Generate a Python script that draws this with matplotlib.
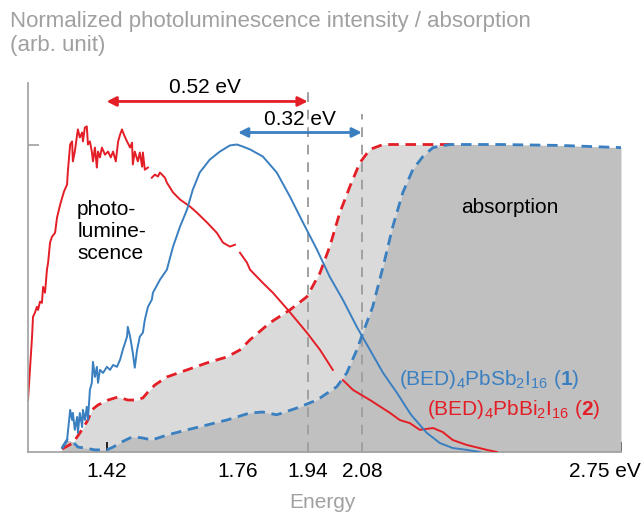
import numpy as np
import matplotlib
matplotlib.use("Agg")
import matplotlib.pyplot as plt
import matplotlib.transforms as mtransforms

plt.rcParams['font.family'] = ['Liberation Sans', 'DejaVu Sans']
plt.rcParams['mathtext.fontset'] = 'custom'
plt.rcParams['mathtext.rm'] = 'Liberation Sans'
plt.rcParams['mathtext.it'] = 'Liberation Sans'
plt.rcParams['mathtext.bf'] = 'Liberation Sans:bold'

nan = np.nan

# ---- data (energy in eV, normalized intensity) ----
pl2_E = [1.217, 1.222, 1.227, 1.230, 1.235, 1.240, 1.243, 1.248, 1.253, 1.256, 1.261, 1.266, 1.269,
         1.274, 1.279, 1.287, 1.292, 1.300, 1.310, 1.318, 1.320, 1.326, 1.331, 1.333, 1.338, 1.344,
         1.346, 1.351, 1.357, 1.359, 1.364, 1.369, 1.372, 1.377, 1.382, 1.385, 1.390, 1.395, 1.398,
         1.403, 1.408, 1.416, 1.424, 1.431, 1.437, 1.444, 1.450, 1.455, 1.460, 1.465, 1.473, 1.481,
         1.486, 1.488, 1.493, 1.501, 1.506, 1.512, 1.514, 1.519, 1.527, 1.532, 1.537, 1.545, 1.553,
         1.558, 1.571, 1.576, 1.592, 1.610, 1.636, 1.654, 1.680, 1.705, 1.721, 1.739, 1.752, 1.757,
         1.765, 1.783, 1.791, 1.824, 1.850, 1.889, 1.938, 1.972, 2.005, 2.015, 2.031, 2.057, 2.101,
         2.153, 2.178, 2.204, 2.230, 2.264, 2.289, 2.315, 2.351, 2.403, 2.429]
pl2_I = [0.169, 0.267, 0.365, 0.440, 0.453, 0.472, 0.462, 0.489, 0.485, 0.537, 0.518, 0.593, 0.616,
         0.681, 0.700, 0.713, 0.762, 0.804, 0.847, 0.870, 0.912, 1.000, 1.010, 0.945, 0.977, 1.032,
         1.049, 1.023, 1.039, 1.010, 1.055, 1.059, 1.000, 1.010, 0.977, 0.945, 0.990, 0.925, 0.977,
         0.958, 0.990, 0.967, 0.977, 0.958, 0.977, 0.945, 1.010, 1.032, 1.049, 1.032, 1.010, 0.990,
         1.006, 0.935, 0.977, 0.945, 0.974, 0.928, 0.974, 0.918, 0.925, nan, 0.892, 0.902, 0.896,
         0.909, 0.892, 0.876, 0.844, 0.821, 0.798, 0.778, 0.746, 0.713, 0.681, 0.668, 0.674, nan,
         0.648, 0.616, 0.593, 0.550, 0.518, 0.462, 0.388, 0.332, 0.267, nan, 0.234, 0.202, 0.169,
         0.127, 0.104, 0.094, 0.072, 0.078, 0.065, 0.039, 0.023, 0.007, 0.0]

pl1_E = [1.305, 1.318, 1.326, 1.331, 1.333, 1.338, 1.344, 1.346, 1.351, 1.357, 1.359, 1.364, 1.369,
         1.372, 1.377, 1.382, 1.385, 1.390, 1.395, 1.398, 1.403, 1.411, 1.421, 1.429, 1.437, 1.447,
         1.455, 1.462, 1.473, 1.475, 1.481, 1.488, 1.493, 1.499, 1.506, 1.514, 1.519, 1.527, 1.537,
         1.540, 1.558, 1.576, 1.592, 1.610, 1.628, 1.643, 1.661, 1.687, 1.713, 1.739, 1.757, 1.773,
         1.791, 1.824, 1.860, 1.894, 1.928, 1.964, 1.997, 2.031, 2.067, 2.101, 2.135, 2.171, 2.204,
         2.212, 2.248, 2.282, 2.315, 2.351, 2.385]
pl1_I = [0.013, 0.039, 0.137, 0.104, 0.127, 0.072, 0.114, 0.062, 0.127, 0.081, 0.137, 0.104, 0.147,
         0.104, 0.202, 0.225, 0.293, 0.244, 0.277, 0.225, 0.267, 0.257, 0.277, 0.267, 0.283, 0.277,
         0.300, 0.332, 0.375, 0.407, 0.375, 0.322, 0.274, 0.332, 0.375, 0.388, 0.430, 0.472, 0.495,
         0.518, 0.560, 0.593, 0.668, 0.733, 0.788, 0.853, 0.909, 0.951, 0.977, 0.997, 1.000, 0.993,
         0.984, 0.961, 0.909, 0.831, 0.746, 0.658, 0.570, 0.495, 0.407, 0.332, 0.257, 0.192, 0.127,
         0.114, 0.062, 0.029, 0.013, 0.007, 0.0]

abs2_E = [1.305, 1.333, 1.351, 1.372, 1.382, 1.398, 1.424, 1.450, 1.475, 1.499, 1.514, 1.527, 1.545,
          1.576, 1.628, 1.680, 1.731, 1.765, 1.791, 1.842, 1.894, 1.938, 1.972, 1.997, 2.023, 2.049,
          2.075, 2.101, 2.135, 2.186, 2.250, 2.320]
abs2_I = [0.010, 0.029, 0.062, 0.104, 0.137, 0.153, 0.169, 0.179, 0.169, 0.169, 0.176, 0.195, 0.218,
          0.244, 0.267, 0.290, 0.309, 0.332, 0.365, 0.420, 0.462, 0.505, 0.583, 0.668, 0.778, 0.863,
          0.941, 0.984, 1.000, 1.000, 1.000, 1.000]

abs1_E = [1.305, 1.318, 1.333, 1.346, 1.364, 1.390, 1.421, 1.437, 1.460, 1.486, 1.512, 1.537, 1.576,
          1.628, 1.680, 1.731, 1.791, 1.824, 1.860, 1.912, 1.964, 2.015, 2.041, 2.067, 2.083, 2.108,
          2.135, 2.160, 2.186, 2.212, 2.238, 2.264, 2.308, 2.437, 2.592, 2.750]
abs1_I = [0.013, 0.039, 0.033, 0.016, 0.013, 0.007, 0.007, 0.016, 0.033, 0.049, 0.046, 0.039, 0.055,
          0.072, 0.088, 0.104, 0.127, 0.130, 0.121, 0.143, 0.169, 0.212, 0.257, 0.332, 0.388, 0.472,
          0.603, 0.733, 0.844, 0.919, 0.961, 0.990, 1.000, 1.000, 0.997, 0.990]

tick_E = [1.42, 1.76, 1.94, 2.08, 2.75]
tick_labels = ['1.42', '1.76', '1.94', '2.08', '2.75 eV']
gap2 = (1.42, 1.94, '0.52 eV')
gap1 = (1.76, 2.08, '0.32 eV')

RED = '#e41e26'
BLUE = '#3a7fc0'
GRAY = '#a0a0a0'
LIGHT = '#dadada'
DARK = '#c0c0c0'
FS = 15

fig = plt.figure(figsize=(6.43, 5.13), dpi=100)
ax = fig.add_axes([28/643, 1 - 452/513, (621-28)/643, (452-83)/513])
ax.set_xlim(1.217, 2.75)
ax.set_ylim(0, 1.2)

# absorption fills
ax.fill_between(abs2_E, 0, abs2_I, color=LIGHT, lw=0, zorder=1)
ax.fill_between(abs1_E, 0, abs1_I, color=DARK, lw=0, zorder=2)

# vertical guide lines
ax.plot([gap2[1], gap2[1]], [0, 1.19], color=GRAY, lw=1.4, ls=(0, (5, 4)), zorder=3)
ax.plot([gap1[1], gap1[1]], [0, 1.10], color=GRAY, lw=1.4, ls=(0, (5, 4)), zorder=3)

# absorption edges
ax.plot(abs2_E, abs2_I, color=RED, lw=2.0, ls=(0, (3.8, 2.4)), zorder=4)
ax.plot(abs1_E, abs1_I, color=BLUE, lw=2.0, ls=(0, (3.8, 2.4)), zorder=4)

# PL
ax.plot(pl2_E, pl2_I, color=RED, lw=1.4, zorder=5)
ax.plot(pl1_E, pl1_I, color=BLUE, lw=1.4, zorder=5)

# arrows
ax.annotate('', xy=(gap2[0], 1.140), xytext=(gap2[1], 1.140),
            arrowprops=dict(arrowstyle='<|-|>', color=RED, lw=2, mutation_scale=14, shrinkA=0, shrinkB=0))
ax.text((gap2[0] + gap2[1]) / 2 - 0.005, 1.186, gap2[2], ha='center', va='center', fontsize=FS)
ax.annotate('', xy=(gap1[0], 1.039), xytext=(gap1[1], 1.039),
            arrowprops=dict(arrowstyle='<|-|>', color=BLUE, lw=2, mutation_scale=14, shrinkA=0, shrinkB=0))
ax.text((gap1[0] + gap1[1]) / 2, 1.081, gap1[2], ha='center', va='center', fontsize=FS)

# annotations
ax.text(1.344, 0.717, 'photo-\nlumine-\nscence', ha='left', va='center', fontsize=FS, linespacing=1.2)
ax.text(2.462, 0.795, 'absorption', ha='center', va='center', fontsize=FS)
ax.text(2.176, 0.235, r'(BED)$_4$PbSb$_2$I$_{16}$ ($\mathbf{1}$)', color=BLUE, ha='left', va='center', fontsize=FS)
ax.text(2.248, 0.137, r'(BED)$_4$PbBi$_2$I$_{16}$ ($\mathbf{2}$)', color=RED, ha='left', va='center', fontsize=FS)

# axes styling
for s in ['top', 'right']:
    ax.spines[s].set_visible(False)
for s in ['left', 'bottom']:
    ax.spines[s].set_color(GRAY)
    ax.spines[s].set_linewidth(1.2)
ax.spines['left'].set_zorder(6)
ax.set_xticks(tick_E)
ax.set_xticklabels(tick_labels, fontsize=FS)
ax.tick_params(axis='x', direction='in', length=7, width=1.4, color='#222222', pad=7)
ax.set_yticks([1.0])
ax.set_yticklabels([''])
ax.tick_params(axis='y', direction='in', length=8, width=1.2, color=GRAY)
last = ax.get_xticklabels()[-1]
last.set_transform(last.get_transform() + mtransforms.ScaledTranslation(-16/100, 0, fig.dpi_scale_trans))

fig.text(10/643, 1 - 22/513, 'Normalized photoluminescence intensity / absorption', color=GRAY,
         fontsize=16, ha='left', va='center')
fig.text(10/643, 1 - 46/513, '(arb. unit)', color=GRAY, fontsize=16, ha='left', va='center')
fig.text(322/643, 1 - 502/513, 'Energy', color=GRAY, fontsize=FS, ha='center', va='center')

fig.savefig('out.png', dpi=100)
